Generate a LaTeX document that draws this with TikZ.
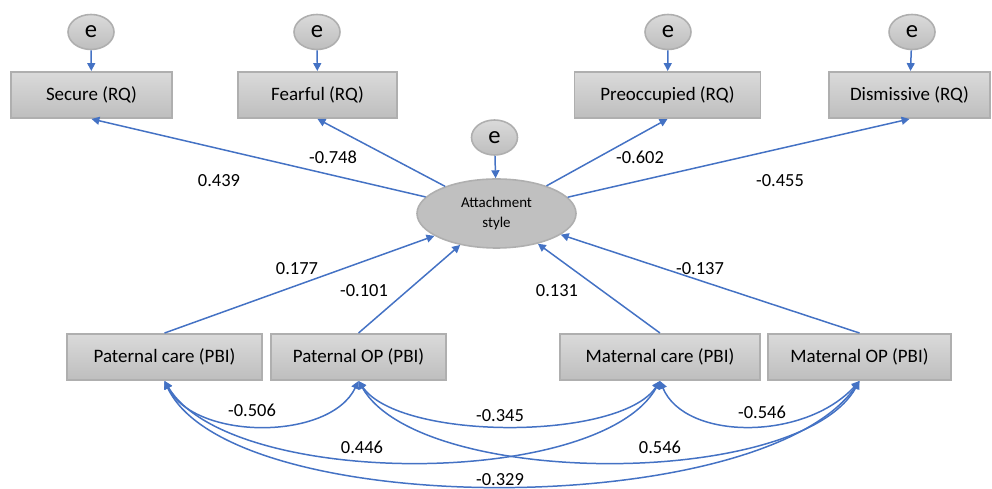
\documentclass[tikz,border=0pt]{standalone}
\usepackage{fontspec}
\setmainfont{Carlito}
\usetikzlibrary{arrows.meta,shapes.geometric}
\definecolor{pathblue}{RGB}{68,114,196}
\definecolor{boxline}{RGB}{175,175,175}
\definecolor{boxtop}{RGB}{218,218,218}
\definecolor{boxbot}{RGB}{190,190,190}
\definecolor{latfill}{RGB}{192,192,192}
\tikzset{
  obs/.style={rectangle, draw=boxline, line width=1.1pt, top color=boxtop, bottom color=boxbot,
    minimum height=9.2mm, inner sep=0pt, font=\fontsize{10.8}{12}\selectfont},
  err/.style={ellipse, draw=boxline, line width=0.9pt, top color=boxtop, bottom color=boxbot,
    minimum width=9.2mm, minimum height=7mm, inner sep=0pt, font=\fontsize{14}{14}\selectfont},
  latent/.style={ellipse, draw=boxline, line width=0.9pt, fill=latfill, minimum width=31.8mm,
    minimum height=13.8mm, inner sep=0pt, align=center, font=\fontsize{8.5}{11.3}\selectfont},
  coef/.style={inner sep=1pt, font=\fontsize{10.5}{12}\selectfont},
  path/.style={draw=pathblue, line width=0.85pt, -{Triangle[length=4.5pt,width=4.5pt]}},
  cov/.style={draw=pathblue, line width=0.85pt,
    {Triangle[length=4.5pt,width=4.5pt]}-{Triangle[length=4.5pt,width=4.5pt]}}
}
\begin{document}
\begin{tikzpicture}[x=0.2mm,y=-0.2mm]
  \useasboundingbox (0,0) rectangle (992,489);
  % attachment measures
  \node[obs, minimum width=32.2mm] (sec) at (91.5,95) {Secure (RQ)};
  \node[obs, minimum width=31.8mm] (fea) at (317.5,95) {Fearful (RQ)};
  \node[obs, minimum width=37.2mm] (pre) at (667.5,95) {Preoccupied (RQ)};
  \node[obs, minimum width=32.2mm] (dis) at (909.5,95) {Dismissive (RQ)};
  \node[err] (e1) at (91,32) {e};
  \node[err] (e2) at (317,32) {e};
  \node[err] (e3) at (668,32) {e};
  \node[err] (e4) at (912,32) {e};
  % latent
  \node[latent] (att) at (496.5,213.5) {Attachment\\style};
  \node[err] (e5) at (494.5,137.5) {e};
  % parental bonding
  \node[obs, minimum width=39mm] (pc) at (164.5,357) {Paternal care (PBI)};
  \node[obs, minimum width=35mm] (pop) at (358.5,357) {Paternal OP (PBI)};
  \node[obs, minimum width=40mm] (mc) at (660,357) {Maternal care (PBI)};
  \node[obs, minimum width=36.6mm] (mop) at (859.5,357) {Maternal OP (PBI)};
  \begin{scope}[path]
    \draw (e1) -- (sec);
    \draw (e2) -- (fea);
    \draw (e3) -- (pre);
    \draw (e4) -- (dis);
    \draw (e5) -- (att);
    \draw (att) -- (sec.south);
    \draw (att) -- (fea.south);
    \draw (att) -- (pre.south);
    \draw (att) -- (dis.south);
    \draw (pc.north) -- (att);
    \draw (pop.north) -- (att);
    \draw (mc.north) -- (att);
    \draw (mop.north) -- (att);
  \end{scope}
  \begin{scope}[cov]
    \draw (pc.south) .. controls (195,441) and (330,441) .. (pop.south);
    \draw (pop.south) .. controls (400,441) and (620,441) .. (mc.south);
    \draw (mc.south) .. controls (685,441) and (805,441) .. (mop.south);
    \draw (pc.south) .. controls (230,489) and (600,489) .. (mc.south);
    \draw (pop.south) .. controls (420,489) and (800,489) .. (mop.south);
    \draw (pc.south) .. controls (230,521) and (762,521) .. (mop.south);
  \end{scope}
  % coefficients
  \node[coef] (b1) at (219,181) {0.439};
  \node[coef] (b2) at (333,157) {-0.748};
  \node[coef] (b3) at (640,157) {-0.602};
  \node[coef] (b4) at (780,181) {-0.455};
  \node[coef] (b5) at (297,269) {0.177};
  \node[coef] (b6) at (364,291) {-0.101};
  \node[coef] (b7) at (557,291) {0.131};
  \node[coef] (b8) at (700,269) {-0.137};
  \node[coef] (r1) at (252,410) {-0.506};
  \node[coef] (r2) at (500,416) {-0.345};
  \node[coef] (r3) at (762,412) {-0.546};
  \node[coef] (r4) at (362,447) {0.446};
  \node[coef] (r5) at (660,447) {0.546};
  \node[coef] (r6) at (500,480) {-0.329};
\end{tikzpicture}
\end{document}
